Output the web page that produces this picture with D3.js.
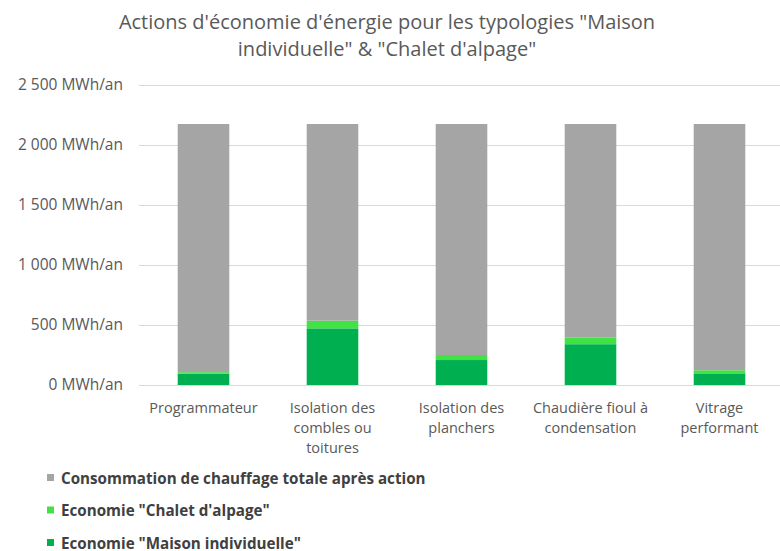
<!DOCTYPE html>
<html>
<head>
<meta charset="utf-8">
<script src="https://cdn.jsdelivr.net/npm/d3@7"></script>
<style>
  html, body { margin: 0; padding: 0; background: #fff; }
  svg { display: block; }
  text { font-family: "Open Sans", Lato, sans-serif; }
</style>
</head>
<body>
<svg id="chart" width="780" height="551"></svg>
<script>
// Actions (categories), with line breaks used for the axis labels
const categories = [
  ["Programmateur"],
  ["Isolation des", "combles ou", "toitures"],
  ["Isolation des", "planchers"],
  ["Chaudière fioul à", "condensation"],
  ["Vitrage", "performant"]
];
// Savings per action (MWh/an)
const economieMaison = [95, 472, 208, 340, 97];
const economieChalet = [12, 64, 42, 57, 26];
// Remaining heating consumption after action (MWh/an)
const consommationApres = [2068, 1639, 1925, 1778, 2052];

const yTicks = [0, 500, 1000, 1500, 2000, 2500];
const seriesNames = [
  "Consommation de chauffage totale après action",
  "Economie \"Chalet d'alpage\"",
  "Economie \"Maison individuelle\""
];
const colors = {
  maison: "#00b050",
  chalet: "#41e344",
  conso: "#a5a5a5"
};

const svg = d3.select("#chart");
const margin = { left: 139, right: -4, top: 85, bottom: 166 };
const W = 780, H = 551;

const x = d3.scaleBand()
  .domain(d3.range(categories.length))
  .range([margin.left, W - margin.right])
  .paddingInner(0.6)
  .paddingOuter(0.3);

const y = d3.scaleLinear()
  .domain([0, 2500])
  .range([H - margin.bottom, margin.top]);

// Title
const title = svg.append("text")
  .attr("text-anchor", "middle")
  .attr("fill", "#595959")
  .style("font-size", "20px");
title.append("tspan").attr("x", 387).attr("y", 29)
  .text("Actions d'économie d'énergie pour les typologies \"Maison");
title.append("tspan").attr("x", 387).attr("y", 56)
  .text("individuelle\" & \"Chalet d'alpage\"");

// Gridlines and y labels
const fmt = v => d3.format(",")(v).replace(/,/g, " ") + " MWh/an";
const yAxis = d3.axisLeft(y)
  .tickValues(yTicks)
  .tickSize(-(W - 139))
  .tickPadding(16)
  .tickFormat(fmt);
const gy = svg.append("g")
  .attr("transform", `translate(139,0)`)
  .call(yAxis);
gy.select(".domain").remove();
gy.selectAll(".tick line").attr("stroke", "#d9d9d9").attr("stroke-width", 1);
gy.selectAll(".tick text")
  .attr("fill", "#595959")
  .style("font-size", "15.5px")
  .style("font-family", "'Open Sans', sans-serif");

// Stacked bars
const rows = categories.map((c, i) => ({
  i,
  maison: economieMaison[i],
  chalet: economieChalet[i],
  conso: consommationApres[i]
}));
const stack = d3.stack().keys(["maison", "chalet", "conso"]);
const layers = stack(rows);

svg.append("g").selectAll("g")
  .data(layers)
  .join("g")
  .attr("fill", d => colors[d.key])
  .selectAll("rect")
  .data(d => d)
  .join("rect")
  .attr("x", d => x(d.data.i))
  .attr("width", x.bandwidth())
  .attr("y", d => y(d[1]))
  .attr("height", d => y(d[0]) - y(d[1]));

// Category labels
const xl = svg.append("g");
categories.forEach((lines, i) => {
  const t = xl.append("text")
    .attr("text-anchor", "middle")
    .attr("fill", "#595959")
    .style("font-size", "14.5px");
  lines.forEach((ln, k) => {
    t.append("tspan")
      .attr("x", x(i) + x.bandwidth() / 2)
      .attr("y", 413 + k * 20)
      .text(ln);
  });
});

// Legend
const legendColors = [colors.conso, colors.chalet, colors.maison];
const lg = svg.append("g");
seriesNames.forEach((name, k) => {
  const yy = 478 + k * 32.5;
  lg.append("rect")
    .attr("x", 47).attr("y", yy - 4)
    .attr("width", 7).attr("height", 7)
    .attr("fill", legendColors[k]);
  lg.append("text")
    .attr("x", 61).attr("y", yy + 5.5)
    .attr("fill", "#404040")
    .style("font-size", "15.2px")
    .style("font-weight", "bold")
    .text(name);
});
</script>
</body>
</html>
